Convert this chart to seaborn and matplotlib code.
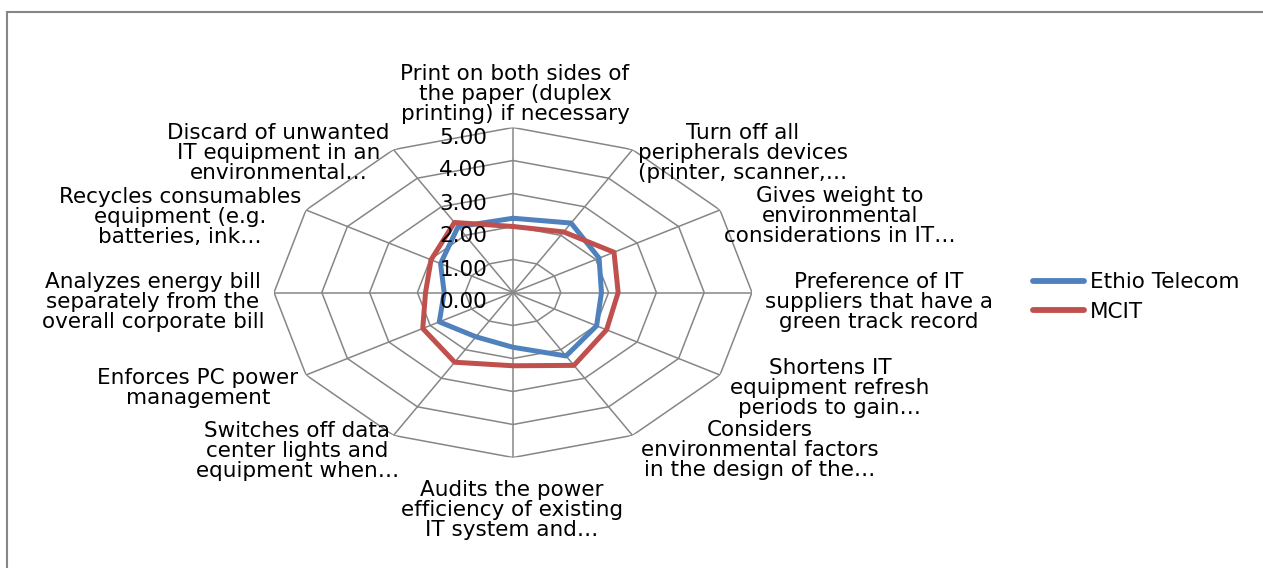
import numpy as np
import pandas as pd
import matplotlib
matplotlib.use("Agg")
import matplotlib.pyplot as plt
from matplotlib.patches import Rectangle
from matplotlib.lines import Line2D
import seaborn as sns

# survey items, clockwise from the top (Excel radar order)
CATEGORIES = [
    "Print on both sides of\nthe paper (duplex\nprinting) if necessary",
    "Turn off all\nperipherals devices\n(printer, scanner,…",
    "Gives weight to\nenvironmental\nconsiderations in IT…",
    "Preference of IT\nsuppliers that have a\ngreen track record",
    "Shortens IT\nequipment refresh\nperiods to gain…",
    "Considers\nenvironmental factors\nin the design of the…",
    "Audits the power\nefficiency of existing\nIT system and…",
    "Switches off data\ncenter lights and\nequipment when…",
    "Enforces PC power\nmanagement",
    "Analyzes energy bill\nseparately from the\noverall corporate bill",
    "Recycles consumables\nequipment (e.g.\nbatteries, ink…",
    "Discard of unwanted\nIT equipment in an\nenvironmental…",
]
ETHIO = [2.25, 2.43, 2.08, 1.85, 2.02, 2.22, 1.66, 1.55, 1.78, 1.44, 1.75, 2.30]
MCIT = [2.00, 2.12, 2.44, 2.20, 2.26, 2.55, 2.22, 2.44, 2.18, 1.83, 1.98, 2.45]
SERIES = ["Ethio Telecom", "MCIT"]
RTICKS = [0, 1, 2, 3, 4, 5]

COLORS = {"Ethio Telecom": "#4F81BD", "MCIT": "#C0504D"}
GRID = "#868686"
# label offsets from the outer vertex, in pixels (x right, y up)
LABEL_OFFSETS = [(2, 33), (110, -3), (120, -6), (127, -9), (110, -13), (127, -15),
                 (-1, -53), (-96, -16), (-108, -13), (-121, -9), (-126, -7), (-115, -3)]

n = len(CATEGORIES)
theta = np.linspace(0, 2 * np.pi, n, endpoint=False)
theta_closed = np.append(theta, 2 * np.pi)

rows = []
for name, vals in zip(SERIES, [ETHIO, MCIT]):
    for t, v in zip(theta_closed, vals + vals[:1]):
        rows.append({"theta": t, "score": v, "org": name})
df = pd.DataFrame(rows)

sns.set_theme(style="white")
plt.rcParams["font.family"] = ["DejaVu Sans"]
plt.rcParams["text.color"] = "black"
FS = 15.5

W, H = 1263, 568
fig = plt.figure(figsize=(W / 100, H / 100), dpi=100)
cx, cy, rx, ry = 513, 292.5, 239, 165
ax = fig.add_axes([(cx - rx) / W, (H - cy - ry) / H, 2 * rx / W, 2 * ry / H],
                  projection="polar")
ax.set_aspect("auto")
ax.set_theta_zero_location("N")
ax.set_theta_direction(-1)
ax.set_ylim(0, 5)
ax.grid(False)
ax.set_xticks([])
ax.set_yticks([])
ax.spines["polar"].set_visible(False)
ax.patch.set_alpha(0)

# polygonal web
for r in RTICKS[1:]:
    ax.plot(theta_closed, [r] * (n + 1), color=GRID, lw=1.1, zorder=1)
for t in theta:
    ax.plot([t, t], [0, 5], color=GRID, lw=1.1, zorder=1)

sns.lineplot(data=df, x="theta", y="score", hue="org", palette=COLORS,
             sort=False, estimator=None, lw=3.6, legend=False, ax=ax, zorder=3)
ax.set_xlabel("")
ax.set_ylabel("")

for r in RTICKS:
    ax.annotate(f"{r:.2f}", xy=(0, r), xytext=(-26, -10), textcoords="offset pixels",
                ha="right", va="center", fontsize=FS, color="black", zorder=4)

for t, lab, (dx, dy) in zip(theta, CATEGORIES, LABEL_OFFSETS):
    ax.annotate(lab, xy=(t, 5), xytext=(dx, dy), textcoords="offset pixels",
                ha="center", va="center", multialignment="center",
                fontsize=FS, linespacing=1.0, color="black", annotation_clip=False)

handles = [Line2D([], [], color=COLORS[s], lw=4.2, solid_capstyle="round") for s in SERIES]
fig.legend(handles, SERIES, loc="center left", bbox_to_anchor=(1022 / W, 1 - 297 / H),
           frameon=False, fontsize=FS, handlelength=2.4, handletextpad=0.25,
           labelspacing=0.45, borderpad=0, labelcolor="black")

fig.patches.append(Rectangle((7 / W, -0.1), 1.2, 1 - 12 / H + 0.1, transform=fig.transFigure,
                             fill=False, edgecolor=GRID, lw=1.5))

fig.savefig("out.png", dpi=100)
